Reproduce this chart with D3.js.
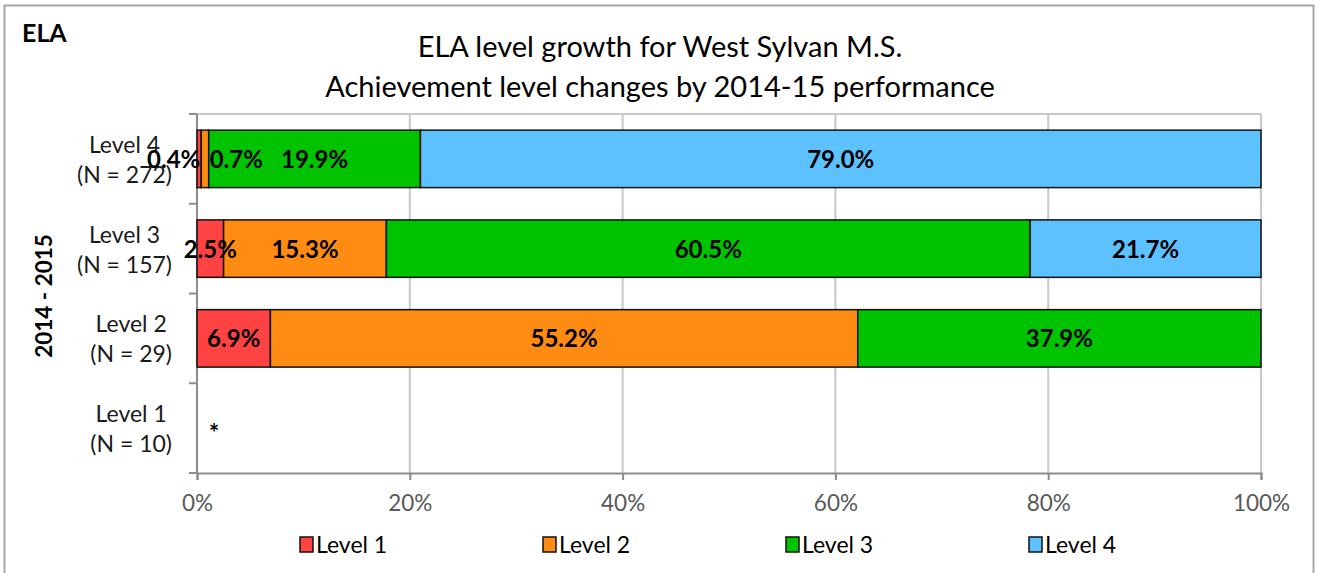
<!DOCTYPE html>
<html>
<head>
<meta charset="utf-8">
<script src="https://cdn.jsdelivr.net/npm/d3@7"></script>
<style>
  body { margin: 0; background: #fff; }
  svg { font-family: Lato, "Open Sans", sans-serif; }
</style>
</head>
<body>
<svg id="chart" width="1320" height="573"></svg>
<script>
// rows, top to bottom
const catNames = ["Level 4", "Level 3", "Level 2", "Level 1"]
const catCounts = [272, 157, 29, 10]
const catNotes = ["", "", "", "*"]

// share of students (%) reaching each level in the next year
const level1 = [0.4, 2.5, 6.9, 0]
const level2 = [0.7, 15.3, 55.2, 0]
const level3 = [19.9, 60.5, 37.9, 0]
const level4 = [79.0, 21.7, 0, 0]

const seriesNames = ["Level 1", "Level 2", "Level 3", "Level 4"]
const seriesColors = ["#ff4343", "#ff8c12", "#00c300", "#5dc1ff"]
const xTicks = [0, 20, 40, 60, 80, 100]

const svg = d3.select("#chart")
const margin = { left: 197, right: 1261, top: 114, bottom: 473 }

// outer frame
svg.append("rect")
  .attr("x", 4.5).attr("y", 5.5)
  .attr("width", 1309).attr("height", 580)
  .attr("fill", "none")
  .attr("stroke", "#a6a6a6")
  .attr("stroke-width", 2)

svg.append("text")
  .attr("x", 22).attr("y", 42)
  .attr("font-size", 25).attr("font-weight", "bold")
  .text("ELA")

const title = svg.append("text")
  .attr("text-anchor", "middle")
  .attr("font-size", 29)
title.append("tspan").attr("x", 660).attr("y", 57).text("ELA level growth for West Sylvan M.S.")
title.append("tspan").attr("x", 660).attr("y", 97).text("Achievement level changes by 2014-15 performance")

const x = d3.scaleLinear()
  .domain([0, 100])
  .range([margin.left, margin.right])

const y = d3.scaleBand()
  .domain(catNames)
  .range([margin.top, margin.bottom])
  .paddingInner(0.36)
  .paddingOuter(0.18)

// gridlines + plot frame
svg.append("g")
  .selectAll("line")
  .data(xTicks.slice(1))
  .enter().append("line")
    .attr("x1", d => x(d)).attr("x2", d => x(d))
    .attr("y1", margin.top).attr("y2", margin.bottom)
    .attr("stroke", "#c8c8c8")
    .attr("stroke-width", 2)

svg.append("line")
  .attr("x1", margin.left).attr("x2", margin.right)
  .attr("y1", margin.top).attr("y2", margin.top)
  .attr("stroke", "#c8c8c8")
  .attr("stroke-width", 2)

// x axis
const xAxis = svg.append("g")
  .attr("transform", "translate(0," + margin.bottom + ")")
  .call(d3.axisBottom(x)
    .tickValues(xTicks)
    .tickSize(7)
    .tickPadding(15)
    .tickFormat(d => d + "%"))
xAxis.select(".domain").attr("stroke", "#8c8c8c").attr("stroke-width", 2)
xAxis.selectAll(".tick line").attr("stroke", "#8c8c8c").attr("stroke-width", 2)
xAxis.selectAll(".tick text")
  .attr("fill", "#595959")
  .attr("font-size", 22.5)
  .attr("font-family", "Lato, sans-serif")

// y axis: ticks at band boundaries
const bounds = catNames.map(c => y(c) - y.step() * y.paddingInner() / 2)
bounds.push(margin.bottom)
const yAxis = svg.append("g")
yAxis.append("line")
  .attr("x1", margin.left).attr("x2", margin.left)
  .attr("y1", margin.top).attr("y2", margin.bottom)
  .attr("stroke", "#8c8c8c").attr("stroke-width", 2)
yAxis.selectAll(".ytick")
  .data(bounds)
  .enter().append("line")
    .attr("class", "ytick")
    .attr("x1", margin.left - 8).attr("x2", margin.left)
    .attr("y1", d => d).attr("y2", d => d)
    .attr("stroke", "#8c8c8c").attr("stroke-width", 2)

// category labels (two lines, centred block right-aligned)
catNames.forEach((c, i) => {
  const cy = y(c) + y.bandwidth() / 2
  const t = svg.append("text")
    .attr("text-anchor", "middle")
    .attr("font-size", 23)
    .attr("fill", "#1a1a1a")
  const l1 = t.append("tspan").attr("y", cy - 6).text(c)
  const l2 = t.append("tspan").attr("y", cy + 24).text("(N = " + catCounts[i] + ")")
  const w = Math.max(l1.node().getComputedTextLength(), l2.node().getComputedTextLength())
  const cx = 172 - w / 2
  l1.attr("x", cx)
  l2.attr("x", cx)
})

svg.append("text")
  .attr("transform", "translate(52,296) rotate(-90)")
  .attr("text-anchor", "middle")
  .attr("font-size", 22.5)
  .attr("font-weight", "bold")
  .text("2014 - 2015")

// stacked bars
const rows = catNames.map((c, i) => ({
  cat: c, v: [level1[i], level2[i], level3[i], level4[i]]
}))
const segs = []
rows.forEach(r => {
  let acc = 0
  r.v.forEach((v, k) => {
    segs.push({ cat: r.cat, k: k, v: v, x0: acc, x1: acc + v })
    acc += v
  })
})
const shown = segs.filter(d => d.v > 0)

svg.append("g")
  .selectAll("rect")
  .data(shown)
  .enter().append("rect")
    .attr("x", d => x(d.x0))
    .attr("y", d => y(d.cat))
    .attr("width", d => x(d.x1) - x(d.x0))
    .attr("height", y.bandwidth())
    .attr("fill", d => seriesColors[d.k])
    .attr("stroke", "#111")
    .attr("stroke-width", 1.5)

svg.append("g")
  .selectAll("text")
  .data(shown)
  .enter().append("text")
    .attr("font-size", 24)
    .attr("font-weight", "bold")
    .attr("y", d => y(d.cat) + y.bandwidth() / 2 + 9)
    .each(function (d) {
      const el = d3.select(this).text(d.v.toFixed(1) + "%")
      const wSeg = x(d.x1) - x(d.x0)
      if (wSeg < 12) {
        // tiny slices: push label out of the way
        if (d.k === 0) el.attr("text-anchor", "end").attr("x", x(d.x1) - 1)
        else el.attr("text-anchor", "start").attr("x", x(d.x1) + 1)
      } else {
        el.attr("text-anchor", "middle").attr("x", (x(d.x0) + x(d.x1)) / 2)
      }
    })

// notes for suppressed rows
svg.append("g")
  .selectAll("text")
  .data(catNames.filter((c, i) => catNotes[i]))
  .enter().append("text")
    .attr("x", margin.left + 17)
    .attr("y", d => y(d) + y.bandwidth() / 2 + 14)
    .attr("text-anchor", "middle")
    .attr("font-size", 24)
    .attr("font-weight", "bold")
    .text(d => catNotes[catNames.indexOf(d)])

// legend
const legend = svg.append("g")
  .selectAll("g")
  .data(seriesNames)
  .enter().append("g")
    .attr("transform", (d, i) => "translate(" + (300 + i * 243) + ",537)")
legend.append("rect")
  .attr("width", 13).attr("height", 15)
  .attr("fill", (d, i) => seriesColors[i])
  .attr("stroke", "#111").attr("stroke-width", 1.5)
legend.append("text")
  .attr("x", 16).attr("y", 16)
  .attr("font-size", 23)
  .text(d => d)
</script>
</body>
</html>
